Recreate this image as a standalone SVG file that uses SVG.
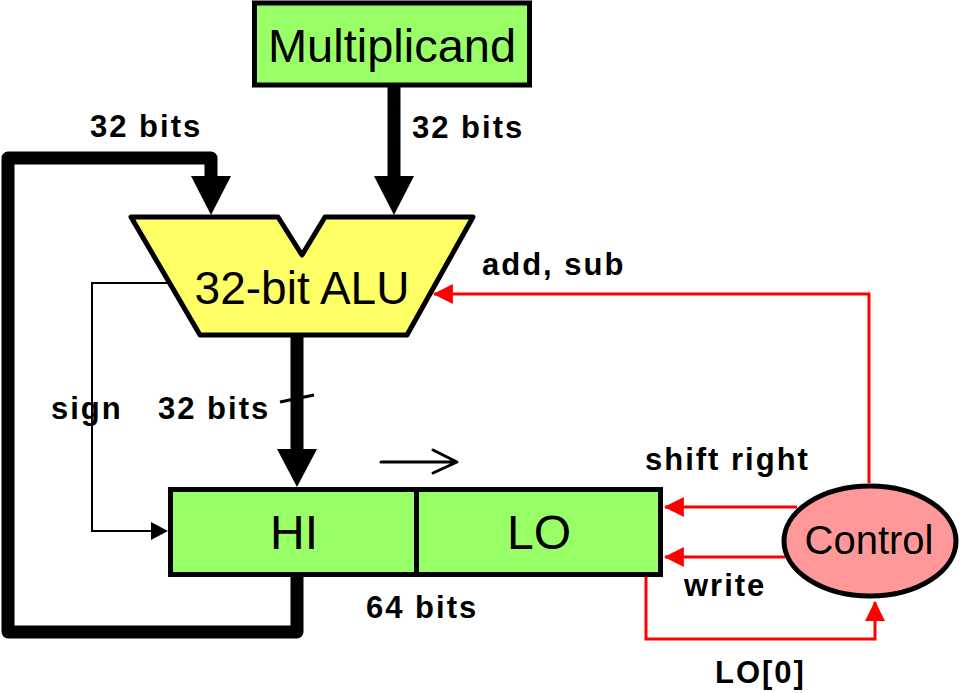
<svg xmlns="http://www.w3.org/2000/svg" width="962" height="693" viewBox="0 0 962 693">
<style>
.box{fill:#99FF66;stroke:#000;stroke-width:5}
.big{font-family:"Liberation Sans",Arial,sans-serif;fill:#000}
.lbl{font-family:"Liberation Sans",Arial,sans-serif;font-weight:bold;font-size:31px;letter-spacing:2px;fill:#000}
.bus{fill:none;stroke:#000;stroke-width:13;stroke-linejoin:round}
.red{fill:none;stroke:#FF0000;stroke-width:3}
.thin{fill:none;stroke:#000;stroke-width:2}
</style>
<defs>
<marker id="ra" markerUnits="userSpaceOnUse" markerWidth="20" markerHeight="20" viewBox="0 0 18 18" refX="17" refY="9" orient="auto">
<path d="M0,0 L18,9 L0,18 Z" fill="#FF0000"/>
</marker>
<marker id="ka" markerUnits="userSpaceOnUse" markerWidth="20" markerHeight="20" viewBox="0 0 18 18" refX="17" refY="9" orient="auto">
<path d="M0,0 L18,9 L0,18 Z" fill="#000"/>
</marker>
</defs>
<g id="connectors">
<path class="bus" d="M297,577 L297,632 L8,632 L8,158 L211,158 L211,180"/>
<polygon points="191,176 231,176 211,215" fill="#000"/>
<path class="bus" d="M394,87 L394,180"/>
<polygon points="374,176 414,176 394,215" fill="#000"/>
<path class="bus" d="M297,336 L297,452"/>
<polygon points="277,449 317,449 297,487" fill="#000"/>
<path d="M280,402 L314,395" stroke="#000" stroke-width="3" fill="none"/>
<path class="thin" d="M169,283 L92,283 L92,531 L152,531"/>
<polygon points="151,522 168,531 151,540" fill="#000"/>
<path d="M381,462 L455,462 M433,450 L457,462 L433,473" stroke="#000" stroke-width="3" fill="none" stroke-linecap="round" stroke-linejoin="round"/>
<path class="red" d="M869,483 L869,294 L434,294" marker-end="url(#ra)"/>
<path class="red" d="M797,507 L665,507" marker-end="url(#ra)"/>
<path class="red" d="M785,557 L665,557" marker-end="url(#ra)"/>
<path class="red" d="M646,577 L646,639 L875,639 L875,602" marker-end="url(#ra)"/>
</g>
<g id="multiplicand">
<rect class="box" x="254.5" y="3" width="275" height="82"/>
<text class="big" x="392" y="62" font-size="47" text-anchor="middle">Multiplicand</text>
</g>
<g id="alu">
<polygon points="131,217 278,217 302,255 325,217 473,217 407,335 200,335" fill="#FFFF66" stroke="#000" stroke-width="5" stroke-linejoin="round"/>
<text class="big" x="302" y="304" font-size="46" text-anchor="middle">32-bit ALU</text>
</g>
<g id="hilo">
<rect class="box" x="170.5" y="489.5" width="490" height="85"/>
<line x1="416.5" y1="489.5" x2="416.5" y2="574.5" stroke="#000" stroke-width="5"/>
<text class="big" x="294" y="549" font-size="48" text-anchor="middle">HI</text>
<text class="big" x="539" y="549" font-size="48" text-anchor="middle">LO</text>
</g>
<g id="control">
<ellipse cx="870" cy="541" rx="86" ry="55" fill="#FF9999" stroke="#000" stroke-width="5"/>
<text class="big" x="869" y="554" font-size="40" text-anchor="middle">Control</text>
</g>
<g id="labels">
<text class="lbl" x="90" y="137">32 bits</text>
<text class="lbl" x="412" y="138">32 bits</text>
<text class="lbl" x="482" y="275">add, sub</text>
<text class="lbl" x="51" y="419">sign</text>
<text class="lbl" x="158" y="419">32 bits</text>
<text class="lbl" x="645" y="470">shift right</text>
<text class="lbl" x="366" y="618">64 bits</text>
<text class="lbl" x="684" y="596">write</text>
<text class="lbl" x="715" y="683">LO[0]</text>
</g>
</svg>
